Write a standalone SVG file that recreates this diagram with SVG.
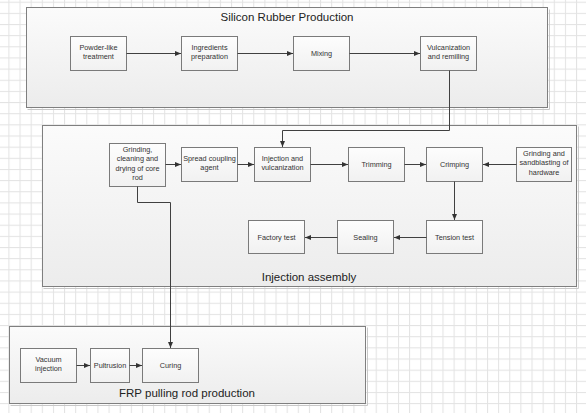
<svg xmlns="http://www.w3.org/2000/svg" width="586" height="413" viewBox="0 0 586 413">
<defs>
<pattern id="grid" patternUnits="userSpaceOnUse" x="8.4" y="1.7" width="11.13" height="11.15">
<rect x="0" y="0" width="11.13" height="11.15" fill="#ffffff"/>
<rect x="0" y="0" width="1" height="11.15" fill="#e3e3e3"/>
<rect x="0" y="0" width="11.13" height="1" fill="#e3e3e3"/>
</pattern>
<linearGradient id="cont" x1="0" y1="0" x2="0" y2="1">
<stop offset="0" stop-color="#fbfbfb"/>
<stop offset="1" stop-color="#ececec"/>
</linearGradient>
<linearGradient id="node" x1="0" y1="0" x2="0" y2="1">
<stop offset="0" stop-color="#fdfdfd"/>
<stop offset="1" stop-color="#f1f1f1"/>
</linearGradient>
<marker id="arr" markerUnits="userSpaceOnUse" markerWidth="6" markerHeight="6" refX="6" refY="3" orient="auto">
<path d="M0,0.5 L6,3 L0,5.5 z" fill="#333333"/>
</marker>
</defs>
<style>
.cont{fill:url(#cont);stroke:#7f7f7f;stroke-width:1}
.shadow{fill:none;stroke:#c8c8c8;stroke-width:1}
.box{fill:url(#node);stroke:#7a7a7a;stroke-width:1}
.t{font-family:"Liberation Sans",Arial,sans-serif;font-size:7.3px;fill:#333333;text-anchor:middle}
.title{font-family:"Liberation Sans",Arial,sans-serif;font-size:11.5px;fill:#222222;text-anchor:middle}
.c{fill:none;stroke:#404040;stroke-width:1;marker-end:url(#arr)}
</style>
<rect x="0" y="0" width="586" height="413" fill="url(#grid)"/>

<g id="silicon-rubber-production">
<path class="shadow" d="M549.5,9.5 V109.5 H27.5"/>
<rect class="cont" x="26.5" y="7.5" width="521" height="100"/>
<text class="title" x="287" y="21">Silicon Rubber Production</text>
</g>
<g id="injection-assembly">
<path class="shadow" d="M578.5,126.5 V288.5 H43.5"/>
<rect class="cont" x="42.5" y="125.5" width="534" height="161"/>
<text class="title" x="309" y="280.5">Injection assembly</text>
</g>
<g id="frp-pulling-rod-production">
<path class="shadow" d="M367.5,327.5 V405.5 H10.5"/>
<rect class="cont" x="9.5" y="326.5" width="356" height="77"/>
<text class="title" x="187" y="397">FRP pulling rod production</text>
</g>

<g id="powder-like-treatment">
<rect class="box" x="70.5" y="36.5" width="56" height="34"/>
<text class="t" x="98.5" y="50">Powder-like</text>
<text class="t" x="98.5" y="59.3">treatment</text>
</g>
<g id="ingredients-preparation">
<rect class="box" x="181.5" y="36.5" width="56" height="34"/>
<text class="t" x="209.5" y="50">Ingredients</text>
<text class="t" x="209.5" y="59.3">preparation</text>
</g>
<g id="mixing">
<rect class="box" x="293.5" y="36.5" width="56" height="34"/>
<text class="t" x="321.5" y="55.5">Mixing</text>
</g>
<g id="vulcanization-and-remilling">
<rect class="box" x="420.5" y="36.5" width="56" height="34"/>
<text class="t" x="448.5" y="50">Vulcanization</text>
<text class="t" x="448.5" y="59.3">and remilling</text>
</g>

<g id="grinding-core-rod">
<rect class="box" x="109.5" y="143.5" width="56" height="43"/>
<text class="t" x="137.5" y="152">Grinding,</text>
<text class="t" x="137.5" y="161.3">cleaning and</text>
<text class="t" x="137.5" y="170.6">drying of core</text>
<text class="t" x="137.5" y="179.9">rod</text>
</g>
<g id="spread-coupling-agent">
<rect class="box" x="181.5" y="147.5" width="56" height="34"/>
<text class="t" x="209.5" y="161">Spread coupling</text>
<text class="t" x="209.5" y="170.3">agent</text>
</g>
<g id="injection-and-vulcanization">
<rect class="box" x="254.5" y="147.5" width="56" height="34"/>
<text class="t" x="282.5" y="161">Injection and</text>
<text class="t" x="282.5" y="170.3">vulcanization</text>
</g>
<g id="trimming">
<rect class="box" x="348.5" y="147.5" width="56" height="34"/>
<text class="t" x="376.5" y="166.5">Trimming</text>
</g>
<g id="crimping">
<rect class="box" x="426.5" y="147.5" width="56" height="34"/>
<text class="t" x="454.5" y="166.5">Crimping</text>
</g>
<g id="grinding-sandblasting-hardware">
<rect class="box" x="516.5" y="147.5" width="55" height="34"/>
<text class="t" x="544" y="156">Grinding and</text>
<text class="t" x="544" y="165.3">sandblasting of</text>
<text class="t" x="544" y="174.6">hardware</text>
</g>
<g id="factory-test">
<rect class="box" x="248.5" y="220.5" width="56" height="33"/>
<text class="t" x="276.5" y="239.5">Factory test</text>
</g>
<g id="sealing">
<rect class="box" x="337.5" y="220.5" width="56" height="33"/>
<text class="t" x="365.5" y="239.5">Sealing</text>
</g>
<g id="tension-test">
<rect class="box" x="426.5" y="220.5" width="56" height="33"/>
<text class="t" x="454.5" y="239.5">Tension test</text>
</g>

<g id="vacuum-injection">
<rect class="box" x="20.5" y="348.5" width="56" height="34"/>
<text class="t" x="48.5" y="362">Vacuum</text>
<text class="t" x="48.5" y="371.3">injection</text>
</g>
<g id="pultrusion">
<rect class="box" x="90.5" y="348.5" width="39" height="34"/>
<text class="t" x="110" y="367.5">Pultrusion</text>
</g>
<g id="curing">
<rect class="box" x="142.5" y="348.5" width="56" height="34"/>
<text class="t" x="170.5" y="367.5">Curing</text>
</g>

<g id="connectors">
<path class="c" d="M126.5,53.5 H181"/>
<path class="c" d="M237.5,53.5 H293"/>
<path class="c" d="M349.5,53.5 H420"/>
<path class="c" d="M449.5,70.5 V130.5 H282.5 V147"/>
<path class="c" d="M165.5,164.5 H181"/>
<path class="c" d="M237.5,164.5 H254"/>
<path class="c" d="M310.5,164.5 H348"/>
<path class="c" d="M404.5,164.5 H426"/>
<path class="c" d="M516.5,164.5 H483"/>
<path class="c" d="M454.5,181.5 V220"/>
<path class="c" d="M426.5,237.5 H394"/>
<path class="c" d="M337.5,237.5 H305"/>
<path class="c" d="M137.5,186.5 V202.5 H170.5 V348"/>
<path class="c" d="M76.5,365.5 H90"/>
<path class="c" d="M129.5,365.5 H142"/>
</g>
</svg>
